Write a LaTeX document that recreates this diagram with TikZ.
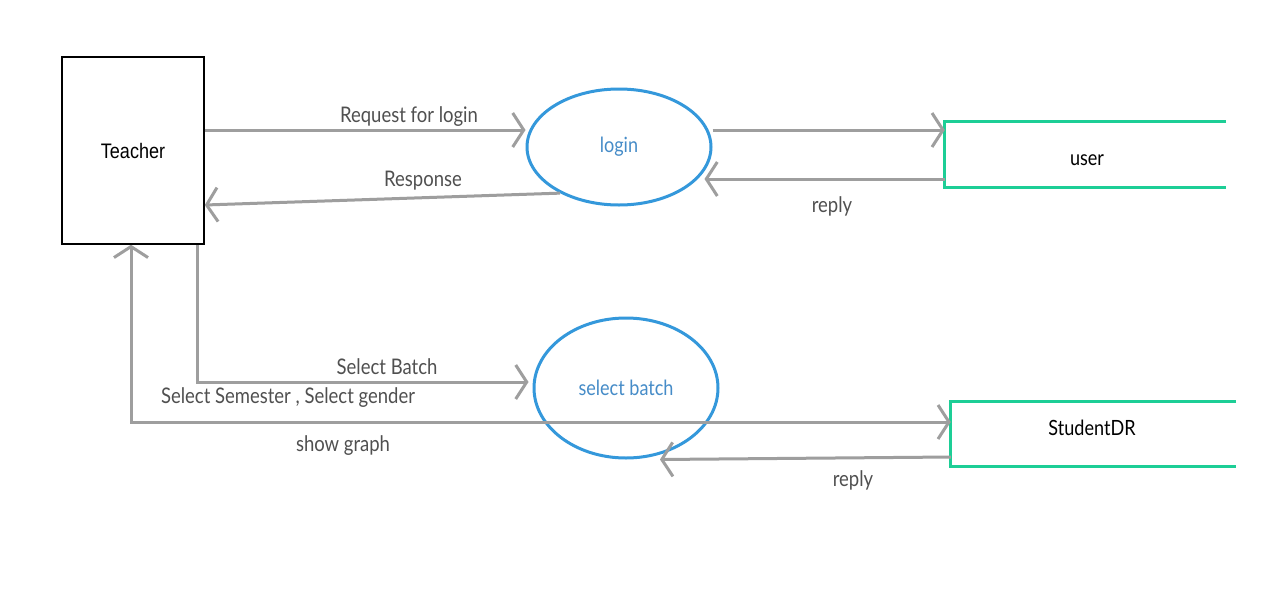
\documentclass[tikz,border=0pt]{standalone}
\usepackage{fontspec}
\setmainfont{Lato}
\newfontfamily\boxfont{Liberation Sans}
\usetikzlibrary{arrows.meta,shapes.geometric}
\definecolor{flowgray}{RGB}{158,158,158}
\definecolor{labelgray}{RGB}{80,80,80}
\definecolor{procblue}{RGB}{52,152,219}
\definecolor{proctext}{RGB}{70,140,200}
\definecolor{storegreen}{RGB}{29,206,150}
% narrow setting of the labels
\newcommand\narrow[1]{\scalebox{0.86}[1]{#1}}
\tikzset{
  entity/.style={draw=black, line width=1.5pt, minimum width=142pt, minimum height=187pt, inner sep=0pt, font=\boxfont\fontsize{21}{24}\selectfont},
  process/.style={ellipse, draw=procblue, line width=3pt, inner sep=0pt, text=proctext, font=\fontsize{21}{24}\selectfont},
  store/.style={inner sep=0pt},
  storetext/.style={inner sep=0pt, font=\fontsize{21}{24}\selectfont, text=black},
  storeline/.style={draw=storegreen, line width=3pt},
  flow/.style={draw=flowgray, line width=3pt, -{Straight Barb[length=11pt,width=34pt]}},
  flowlabel/.style={text=labelgray, inner sep=0pt, font=\fontsize{21.5}{24}\selectfont}
}
\begin{document}
\begin{tikzpicture}[x=1pt,y=-1pt]
\useasboundingbox[fill=white] (0,0) rectangle (1262,603);

% external entity and processes
\node[entity] (teacher) at (133,150.5) {\narrow{Teacher}};
\node[process, minimum width=184pt, minimum height=116pt] (login) at (619,147) {\narrow{login}};
\node[process, minimum width=184pt, minimum height=140pt] (batch) at (626,388) {\narrow{select batch}};

% data stores (open on the right)
\node[store, minimum width=281pt, minimum height=65pt] (user) at (1085.5,154.5) {};
\node[store, minimum width=285pt, minimum height=64pt] (sdr) at (1093.5,434) {};
\draw[storeline] (user.north east) -- (user.north west) -- (user.south west) -- (user.south east);
\draw[storeline] (sdr.north east) -- (sdr.north west) -- (sdr.south west) -- (sdr.south east);
\node[storetext] (usertext) at (1087,160) {\narrow{user}};
\node[storetext] (sdrtext) at (1092,428) {\narrow{StudentDR}};

% data flows
\draw[flow] ([yshift=20.5]teacher.east) -- ([yshift=17]login.west);
\draw[flow] (login.218) -- ([yshift=-54.5]teacher.east);
\draw[flow] ([yshift=17]login.east) -- ([yshift=24.5]user.west);
\draw[flow] ([yshift=-24.5]user.west) -- ([xshift=-8,yshift=-32]login.east);
\draw[flow] ([xshift=64]teacher.south) |- ([xshift=-4,yshift=6]batch.west);
\draw[flow, {Straight Barb[length=11pt,width=34pt]}-{Straight Barb[length=11pt,width=34pt]}]
  ([xshift=-2]teacher.south) |- ([yshift=12]sdr.west);
\draw[flow] ([yshift=-23]sdr.west) -- ([xshift=34]batch.south);

% flow labels
\node[flowlabel] (l1) at (409,117) {\narrow{Request for login}};
\node[flowlabel] (l2) at (423,181) {\narrow{Response}};
\node[flowlabel] (l3) at (832,206) {\narrow{reply}};
\node[flowlabel] (l4) at (387,367) {\narrow{Select Batch}};
\node[flowlabel] (l5) at (288,398) {\narrow{Select Semester , Select gender}};
\node[flowlabel] (l6) at (343,446) {\narrow{show graph}};
\node[flowlabel] (l7) at (853,480) {\narrow{reply}};
\end{tikzpicture}
\end{document}
